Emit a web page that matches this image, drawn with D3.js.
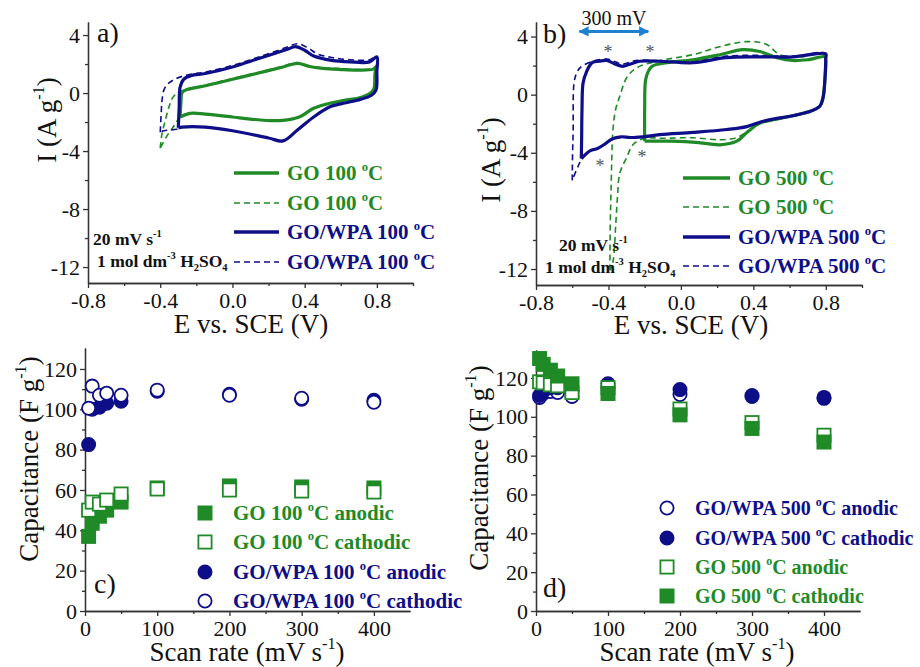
<!DOCTYPE html>
<html>
<head>
<meta charset="utf-8">
<script src="https://cdn.jsdelivr.net/npm/d3@7"></script>
<style>
body{margin:0;background:#fff;}
svg text{font-family:"Liberation Serif","Times New Roman",serif;}
</style>
</head>
<body>
<svg id="fig" width="920" height="667"></svg>
<script>
// ---- panel a: 100 oC, E (V) vs I (A g-1), forward then reverse scan
const aGoSolid = [[-0.29,-1.65],[-0.285,-0.6],[-0.28,0.0],[-0.26,0.2],[-0.15,0.5],[0.0,0.95],[0.15,1.4],[0.28,1.8],[0.36,2.05],[0.42,1.85],[0.5,1.7],[0.6,1.62],[0.7,1.58],[0.78,1.65],[0.8,1.85],
  [0.79,1.4],[0.78,0.2],[0.72,-0.28],[0.62,-0.5],[0.54,-0.7],[0.45,-1.05],[0.37,-1.65],[0.26,-1.9],[0.1,-1.8],[0.0,-1.65],[-0.15,-1.45],[-0.235,-1.4],[-0.29,-1.65]];
const aGoDash = [[-0.40,-3.8],[-0.39,-2.8],[-0.37,-1.8],[-0.35,-0.9],[-0.33,-0.3],[-0.30,0.05],[-0.26,0.25],[-0.15,0.55],[0.0,1.0],[0.15,1.45],[0.28,1.85],[0.36,2.1],[0.42,1.9],[0.5,1.75],[0.6,1.68],[0.7,1.62],[0.78,1.7],[0.8,1.9],
  [0.79,1.4],[0.78,0.2],[0.72,-0.28],[0.62,-0.5],[0.54,-0.7],[0.45,-1.05],[0.37,-1.65],[0.26,-1.9],[0.1,-1.8],[0.0,-1.65],[-0.15,-1.45],[-0.235,-1.4],[-0.29,-1.65],[-0.32,-2.2],[-0.36,-2.9],[-0.40,-3.8]];
const aWpaSolid = [[-0.30,-2.4],[-0.295,-1.0],[-0.29,0.4],[-0.27,0.95],[-0.23,1.2],[-0.15,1.35],[0.0,1.8],[0.15,2.4],[0.3,3.0],[0.35,3.2],[0.4,2.95],[0.45,2.55],[0.55,2.25],[0.65,2.15],[0.76,2.15],[0.8,2.5],
  [0.8,1.5],[0.795,0.2],[0.77,-0.15],[0.69,-0.5],[0.6,-0.75],[0.54,-0.95],[0.45,-1.65],[0.36,-2.55],[0.28,-3.3],[0.2,-3.1],[0.0,-2.6],[-0.15,-2.35],[-0.28,-2.35],[-0.30,-2.4]];
const aWpaDash = [[-0.40,-2.7],[-0.395,-1.5],[-0.39,-0.5],[-0.38,0.2],[-0.36,0.6],[-0.32,0.95],[-0.25,1.25],[-0.15,1.45],[0.0,1.9],[0.15,2.5],[0.3,3.15],[0.36,3.4],[0.42,3.1],[0.47,2.7],[0.55,2.45],[0.65,2.3],[0.76,2.3],[0.8,2.55],
  [0.8,1.5],[0.795,0.2],[0.77,-0.15],[0.69,-0.5],[0.6,-0.75],[0.54,-0.95],[0.45,-1.65],[0.36,-2.55],[0.28,-3.3],[0.2,-3.1],[0.0,-2.6],[-0.15,-2.35],[-0.28,-2.35],[-0.31,-2.5],[-0.35,-2.55],[-0.38,-2.6],[-0.40,-2.7]];

// ---- panel b: 500 oC
const bGoSolid = [[-0.2,-3.2],[-0.2,-1.0],[-0.195,1.0],[-0.18,1.6],[-0.16,1.95],[-0.077,2.2],[0.066,2.4],[0.215,2.75],[0.342,3.1],[0.436,2.97],[0.53,2.55],[0.618,2.35],[0.70,2.4],[0.795,2.6],
  [0.8,2.3],[0.795,1.0],[0.785,-0.2],[0.767,-0.8],[0.7,-1.2],[0.618,-1.45],[0.5,-1.75],[0.436,-1.95],[0.364,-2.6],[0.309,-3.2],[0.215,-3.45],[0.1,-3.3],[-0.05,-3.2],[-0.2,-3.2]];
const bGoDash = [[-0.392,-12.1],[-0.39,-9],[-0.385,-6.3],[-0.375,-2.4],[-0.36,-1.0],[-0.337,-0.1],[-0.298,1.2],[-0.243,1.85],[-0.132,2.3],[0.066,2.75],[0.215,3.3],[0.364,3.65],[0.474,3.45],[0.546,2.75],[0.657,2.6],[0.795,2.8],
  [0.8,2.4],[0.795,1.0],[0.785,-0.2],[0.767,-0.85],[0.7,-1.25],[0.618,-1.5],[0.5,-1.8],[0.436,-2.0],[0.364,-2.55],[0.309,-2.95],[0.215,-3.1],[0.066,-2.97],[-0.1,-3.0],[-0.2,-3.0],[-0.265,-3.45],[-0.298,-4.3],[-0.337,-5.4],[-0.35,-7],[-0.36,-9],[-0.375,-11.5],[-0.392,-12.1]];
const bWpaSolid = [[-0.55,-4.4],[-0.548,-3.0],[-0.546,-1.0],[-0.54,0.8],[-0.52,1.6],[-0.49,2.2],[-0.45,2.3],[-0.41,2.35],[-0.37,2.15],[-0.32,1.95],[-0.27,2.15],[-0.226,2.3],[-0.12,2.3],[0.07,2.2],[0.25,2.55],[0.44,2.6],[0.62,2.6],[0.8,2.8],
  [0.8,2.5],[0.795,1.0],[0.785,-0.2],[0.767,-0.8],[0.7,-1.2],[0.618,-1.45],[0.5,-1.7],[0.436,-1.9],[0.364,-2.2],[0.254,-2.4],[0.066,-2.6],[-0.116,-2.75],[-0.21,-2.9],[-0.28,-2.95],[-0.33,-2.9],[-0.38,-3.05],[-0.42,-3.4],[-0.46,-3.7],[-0.5,-3.85],[-0.55,-4.4]];
const bWpaDash = [[-0.60,-5.9],[-0.598,-4],[-0.595,-2.6],[-0.59,0.8],[-0.575,1.5],[-0.553,1.9],[-0.486,2.3],[-0.408,2.45],[-0.37,2.3],[-0.32,2.1],[-0.25,2.35],[-0.15,2.35],[0.07,2.3],[0.25,2.65],[0.44,2.7],[0.62,2.65],[0.8,2.85],
  [0.8,2.5],[0.795,1.0],[0.785,-0.2],[0.767,-0.8],[0.7,-1.2],[0.618,-1.45],[0.5,-1.7],[0.436,-1.9],[0.364,-2.2],[0.254,-2.4],[0.066,-2.6],[-0.116,-2.75],[-0.21,-2.9],[-0.28,-2.95],[-0.33,-2.9],[-0.38,-3.05],[-0.42,-3.4],[-0.46,-3.7],[-0.5,-3.85],[-0.55,-4.5],[-0.57,-5.0],[-0.60,-5.9]];
const bStars = [[-0.403,3.17],[-0.171,3.17],[-0.447,-4.69],[-0.215,-4.07]];
const bArrow = [[-0.56,4.35],[-0.18,4.35]];

// ---- panels c, d: capacitance (F g-1) vs scan rate (mV s-1)
const rates = [5, 10, 20, 30, 50, 100, 200, 300, 400];
const cGoAnodic = [37, 43.5, 47, 50, 54, 61, 62, 61.5, 61];
const cGoCathodic = [50, 54, 53, 55, 58, 60.5, 60, 59.5, 59];
const cWpaAnodic = [82.5, 100, 101, 103, 104, 109, 107.5, 105, 104.5];
const cWpaCathodic = [100.5, 111.5, 107, 108, 107, 109.5, 107, 105.5, 103.5];
const dWpaAnodic = [110, 112, 113, 112.5, 110.5, 115, 111.5, 110.5, 109.5];
const dWpaCathodic = [111, 113, 115, 115, 113, 117, 114, 111, 110];
const dGoAnodic = [118, 117.5, 116.5, 116, 112.5, 115, 104, 97, 90.5];
const dGoCathodic = [130, 127, 124, 121, 117, 112, 101, 94, 87];

const green = "#1f8a26", blue = "#0e0e88", axisCol = "#333";

const svg = d3.select("#fig");
svg.append("rect").attr("width",920).attr("height",667).attr("fill","#fff");

// text with super/subscripts, parts = [[str, "n"|"sup"|"sub"], ...]
function rich(g, x, y, parts, size) {
    let t = g.append("text").attr("x", x).attr("y", y).attr("font-size", size);
    let shift = 0;
    parts.forEach(function (p) {
        let target = p[1] == "sup" ? -0.45*size : p[1] == "sub" ? 0.25*size : 0;
        t.append("tspan").attr("dy", target - shift)
            .attr("font-size", p[1] == "n" ? size : size*0.6).text(p[0]);
        shift = target;
    });
    return t;
}

function axes(x, y, o) {
    let g = svg.append("g");
    let h = y.range()[0];
    let style = function (sel) {
        sel.selectAll("path,line").attr("stroke", axisCol).attr("stroke-width", 1.3);
        sel.selectAll("text").attr("font-size", 22).attr("fill", "#111");
        sel.attr("font-family", null).attr("font-size", null);
    };
    g.append("g").attr("transform", "translate(0," + h + ")")
        .call(d3.axisBottom(x).tickValues(o.xMinor).tickFormat("").tickSize(3).tickSizeOuter(0)).call(style);
    g.append("g").attr("transform", "translate(0," + h + ")")
        .call(d3.axisBottom(x).tickValues(o.xMajor).tickFormat(o.xFmt).tickSize(5).tickSizeOuter(0).tickPadding(4)).call(style);
    g.append("g").attr("transform", "translate(" + x.range()[0] + ",0)")
        .call(d3.axisLeft(y).tickValues(o.yMinor).tickFormat("").tickSize(3).tickSizeOuter(0)).call(style);
    g.append("g").attr("transform", "translate(" + x.range()[0] + ",0)")
        .call(d3.axisLeft(y).tickValues(o.yMajor).tickFormat(function (d) { return String(d); }).tickSize(5).tickSizeOuter(0).tickPadding(3)).call(style);
    return g;
}

let fmt1 = function (d) { return Math.abs(d) < 1e-9 ? "0.0" : d.toFixed(1); };
let line = function (x, y) {
    return d3.line().x(d => x(d[0])).y(d => y(d[1])).curve(d3.curveCatmullRom.alpha(0.5));
};

function cvPanel(o) {
    let x = d3.scaleLinear().domain([-0.8, 1.0]).range(o.xr);
    let y = d3.scaleLinear().domain(o.yd).range(o.yr);
    axes(x, y, {xMajor:[-0.8,-0.4,0,0.4,0.8], xMinor:[-0.6,-0.2,0.2,0.6,1.0], xFmt:fmt1,
        yMajor:[-12,-8,-4,0,4], yMinor:[-10,-6,-2,2]});
    let l = line(x, y);
    let curves = [[o.goDash, green, true], [o.wpaDash, blue, true], [o.goSolid, green, false], [o.wpaSolid, blue, false]];
    curves.forEach(function (c) {
        svg.append("path").attr("d", l(c[0])).attr("fill", "none").attr("stroke", c[1])
            .attr("stroke-width", c[2] ? 1.6 : 3.2).attr("stroke-dasharray", c[2] ? "6,4" : null)
            .attr("stroke-linejoin", "round");
    });
    // legend
    let lg = svg.append("g");
    o.legend.forEach(function (e, i) {
        let yy = o.legY[i];
        lg.append("line").attr("x1", o.legX[0]).attr("x2", o.legX[1]).attr("y1", yy).attr("y2", yy)
            .attr("stroke", e[1]).attr("stroke-width", e[2] ? 1.6 : 3.5).attr("stroke-dasharray", e[2] ? "6,4" : null);
        rich(lg, o.legX[1] + 8, yy + 7, [[e[0] + " ", "n"], ["o", "sup"], ["C", "n"]], 21)
            .attr("fill", e[1]).attr("font-weight", "bold");
    });
    rich(svg, o.note1[0], o.note1[1], [["20 mV s", "n"], ["-1", "sup"]], 17.5).attr("font-weight", "bold").attr("fill", "#111");
    rich(svg, o.note2[0], o.note2[1], [["1 mol dm", "n"], ["-3", "sup"], [" H", "n"], ["2", "sub"], ["SO", "n"], ["4", "sub"]], 17.5)
        .attr("font-weight", "bold").attr("fill", "#111");
    svg.append("text").attr("x", o.lab[0]).attr("y", o.lab[1]).attr("font-size", 28).attr("fill", "#111").text(o.label);
    svg.append("text").attr("x", o.xt[0]).attr("y", o.xt[1]).attr("font-size", 27).attr("text-anchor", "middle")
        .attr("fill", "#111").text("E vs. SCE (V)");
    let yt = svg.append("g").attr("transform", "translate(" + o.yt[0] + "," + o.yt[1] + ") rotate(-90)");
    rich(yt, 0, 0, [["I (A g", "n"], ["-1", "sup"], [")", "n"]], 27).attr("text-anchor", "middle").attr("fill", "#111");
    return {x: x, y: y};
}

cvPanel({xr:[88,413], yr:[283,22], yd:[-13.1,4.9],
    goSolid:aGoSolid, goDash:aGoDash, wpaSolid:aWpaSolid, wpaDash:aWpaDash,
    legend:[["GO 100",green,false],["GO 100",green,true],["GO/WPA 100",blue,false],["GO/WPA 100",blue,true]],
    legX:[234,279], legY:[173,203,232,262], note1:[93,245], note2:[97,267],
    label:"a)", lab:[97,42], xt:[251,333], yt:[56,120]});

let pb = cvPanel({xr:[536,862], yr:[285,22], yd:[-13.1,5.0],
    goSolid:bGoSolid, goDash:bGoDash, wpaSolid:bWpaSolid, wpaDash:bWpaDash,
    legend:[["GO 500",green,false],["GO 500",green,true],["GO/WPA 500",blue,false],["GO/WPA 500",blue,true]],
    legX:[683,730], legY:[178,207,237,266], note1:[559,251], note2:[545,273],
    label:"b)", lab:[543,43], xt:[691,334], yt:[500,160]});

// 300 mV arrow and asterisks in b
let defs = svg.append("defs");
defs.append("marker").attr("id", "ah").attr("viewBox", "0 0 10 10").attr("refX", 9).attr("refY", 5)
    .attr("markerWidth", 3.4).attr("markerHeight", 3.4).attr("orient", "auto-start-reverse")
    .append("path").attr("d", "M0,0L10,5L0,10z").attr("fill", "#1f80d0");
svg.append("line").attr("x1", pb.x(bArrow[0][0])).attr("x2", pb.x(bArrow[1][0]))
    .attr("y1", pb.y(bArrow[0][1])).attr("y2", pb.y(bArrow[1][1]))
    .attr("stroke", "#1f80d0").attr("stroke-width", 3)
    .attr("marker-start", "url(#ah)").attr("marker-end", "url(#ah)");
svg.append("text").attr("x", d3.mean(bArrow, d => pb.x(d[0]))).attr("y", 25).attr("text-anchor", "middle")
    .attr("font-size", 20).attr("fill", "#111").text("300 mV");
svg.selectAll(".star").data(bStars).enter().append("text").attr("class", "star")
    .attr("x", d => pb.x(d[0])).attr("y", d => pb.y(d[1]) + 9).attr("text-anchor", "middle")
    .attr("font-size", 18).attr("fill", "#555").text("*");

// ---- capacitance panels
function capPanel(o) {
    let x = d3.scaleLinear().domain([0, 450]).range(o.xr);
    let y = d3.scaleLinear().domain(o.yd).range(o.yr);
    axes(x, y, {xMajor:[0,100,200,300,400], xMinor:[50,150,250,350], xFmt:function (d) { return String(d); },
        yMajor:[0,20,40,60,80,100,120], yMinor:[10,30,50,70,90,110]});
    let marker = function (g, shape, filled, col, cx, cy) {
        if (shape == "c") {
            g.append("circle").attr("cx", cx).attr("cy", cy).attr("r", 6.6)
                .attr("fill", filled ? col : "#fff").attr("stroke", col).attr("stroke-width", 1.8);
        } else {
            g.append("rect").attr("x", cx - 6.6).attr("y", cy - 6.6).attr("width", 13.2).attr("height", 13.2)
                .attr("fill", filled ? col : "#fff").attr("stroke", col).attr("stroke-width", 1.8);
        }
    };
    let mg = svg.append("g");
    o.series.forEach(function (s) {
        s.values.forEach(function (v, i) { marker(mg, s.shape, s.filled, s.col, x(rates[i]), y(v)); });
    });
    let lg = svg.append("g");
    if (o.clip) {
        defs.append("clipPath").attr("id", o.clip).append("rect").attr("x", 0).attr("y", 0).attr("width", 462).attr("height", 667);
        lg.attr("clip-path", "url(#" + o.clip + ")");
    }
    o.legend.forEach(function (e, i) {
        let s = o.series[e[0]];
        let yy = o.legY[i];
        marker(lg, s.shape, s.filled, s.col, o.legX, yy);
        rich(lg, o.legX + 28, yy + 7, [[s.name + " ", "n"], ["o", "sup"], ["C " + s.kind, "n"]], o.legSize)
            .attr("fill", s.col).attr("font-weight", "bold");
    });
    svg.append("text").attr("x", o.lab[0]).attr("y", o.lab[1]).attr("font-size", 28).attr("fill", "#111").text(o.label);
    rich(svg, o.xt[0], o.xt[1], [["Scan rate (mV s", "n"], ["-1", "sup"], [")", "n"]], 27)
        .attr("text-anchor", "middle").attr("fill", "#111");
    let yt = svg.append("g").attr("transform", "translate(" + o.yt[0] + "," + o.yt[1] + ") rotate(-90)");
    rich(yt, 0, 0, [["Capacitance (F g", "n"], ["-1", "sup"], [")", "n"]], 27).attr("text-anchor", "middle").attr("fill", "#111");
}

capPanel({xr:[85,410], yr:[611,348], yd:[0,130.4],
    series:[
        {name:"GO 100", kind:"anodic", values:cGoAnodic, shape:"s", filled:true, col:green},
        {name:"GO 100", kind:"cathodic", values:cGoCathodic, shape:"s", filled:false, col:green},
        {name:"GO/WPA 100", kind:"anodic", values:cWpaAnodic, shape:"c", filled:true, col:blue},
        {name:"GO/WPA 100", kind:"cathodic", values:cWpaCathodic, shape:"c", filled:false, col:blue}],
    legend:[[0],[1],[2],[3]], legX:205, legY:[513,542,572,601], clip:"clipC", legSize:21,
    label:"c)", lab:[94,593], xt:[247,661], yt:[38,459]});

capPanel({xr:[536,860], yr:[611,350], yd:[0,134.4],
    series:[
        {name:"GO/WPA 500", kind:"anodic", values:dWpaAnodic, shape:"c", filled:false, col:blue},
        {name:"GO/WPA 500", kind:"cathodic", values:dWpaCathodic, shape:"c", filled:true, col:blue},
        {name:"GO 500", kind:"anodic", values:dGoAnodic, shape:"s", filled:false, col:green},
        {name:"GO 500", kind:"cathodic", values:dGoCathodic, shape:"s", filled:true, col:green}],
    legend:[[0],[1],[2],[3]], legX:667, legY:[508,538,567,596], clip:null, legSize:20,
    label:"d)", lab:[543,597], xt:[697,661], yt:[488,468]});
</script>
</body>
</html>
